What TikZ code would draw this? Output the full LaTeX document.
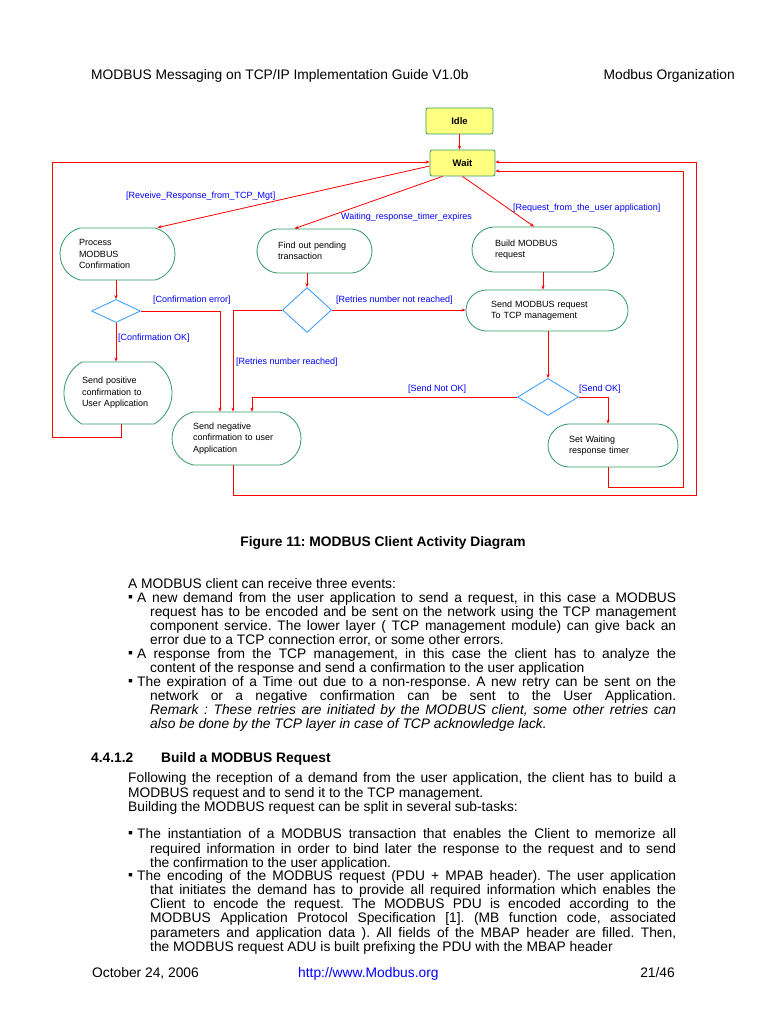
\documentclass[tikz,border=0pt]{standalone}
\usepackage{fontspec}
\setmainfont{Liberation Sans}
\usetikzlibrary{shapes.geometric,shapes.misc,arrows.meta}
\definecolor{flowred}{HTML}{FF0000}
\definecolor{lblblue}{HTML}{0000FF}
\definecolor{actgreen}{HTML}{339966}
\definecolor{decblue}{HTML}{3399FF}
\definecolor{stateyellow}{HTML}{FFFF80}
\frenchspacing
\newcommand\bul{\makebox[9pt][l]{\raisebox{0.5pt}{▪}}}
\newcommand\jl[2]{\hbox to #1pt{#2}}
\begin{document}
\begin{tikzpicture}[x=1pt,y=-1pt,
  act/.style={rounded rectangle, draw=actgreen, line width=0.8pt, fill=white, inner sep=0pt,
    font=\fontsize{9}{11.5}\selectfont, align=left},
  dec/.style={diamond, draw=decblue, line width=0.8pt, inner sep=0pt},
  state/.style={rectangle, rounded corners=2pt, draw=actgreen, fill=stateyellow, line width=0.8pt,
    inner sep=0pt, font=\fontsize{9.5}{11}\selectfont\bfseries},
  flow/.style={draw=flowred, line width=0.8pt, -{Stealth[length=4pt,width=3.2pt]}},
  lbl/.style={text=lblblue, font=\fontsize{9}{11}\selectfont, inner sep=0pt, anchor=west},
  body/.style={font=\fontsize{13.8}{14}\selectfont\frenchspacing, inner sep=0pt, anchor=base west},
  bodyr/.style={font=\fontsize{13.8}{14}\selectfont, inner sep=0pt, anchor=base east},
]
\useasboundingbox[fill=white] (0,0) rectangle (768,1024);

% header
\node[body] (hdl) at (91,80) {MODBUS Messaging on TCP/IP Implementation Guide V1.0b};
\node[bodyr] (hdr) at (735,80) {Modbus Organization};

% ---------- diagram ----------
\node[state, minimum width=67, minimum height=26] (Idle) at (459.5,121) {Idle};
\node[state, minimum width=65, minimum height=26] (Wait) at (462.5,163) {Wait};

\node[act, minimum width=115, minimum height=52, text width=77, rounded rectangle arc length=150]
  (Process) at (117.5,254) {Process\\MODBUS\\Confirmation};
\node[act, minimum width=115, minimum height=44, text width=73, rounded rectangle arc length=170]
  (Find) at (314.5,251) {Find out pending\\transaction};
\node[act, minimum width=142, minimum height=45, text width=96, rounded rectangle arc length=175]
  (Build) at (543,249.5) {Build MODBUS\\request};
\node[act, minimum width=162, minimum height=41, text width=112, rounded rectangle arc length=180]
  (SendReq) at (547,310.5) {Send MODBUS request\\To TCP management};
\node[act, minimum width=108, minimum height=62, text width=72, rounded rectangle arc length=120]
  (SendPos) at (118,393) {Send positive\\confirmation to\\User Application};
\node[act, minimum width=129, minimum height=53, text width=87, rounded rectangle arc length=155]
  (SendNeg) at (236.5,438.5) {Send negative\\confirmation to user\\Application};
\node[act, minimum width=130, minimum height=43, text width=88, rounded rectangle arc length=175]
  (SetWait) at (613,445.5) {Set Waiting\\response timer};

\node[dec, minimum width=49, minimum height=23] (D1) at (116,311) {};
\node[dec, minimum width=49, minimum height=45] (D2) at (307,310) {};
\node[dec, minimum width=61, minimum height=37] (D3) at (548,397) {};

% connectors
\draw[flow] (Idle.south) -- (Idle.south |- Wait.north);
\draw[flow] ([yshift=-3]Wait.west) -- ([xshift=40]Process.north);
\draw[flow] ([xshift=-20]Wait.south) -- ([xshift=-20]Find.north);
\draw[flow] (Wait.south) -- ([xshift=-9]Build.north);
\draw[flow] ([xshift=3]SendPos.south) |- (52,437) |- ([yshift=1]Wait.west);
\draw[flow] ([xshift=-3.5]SendNeg.south) |- (696,495) |- ([yshift=1]Wait.east);
\draw[flow] ([xshift=-5]SetWait.south) |- (683,487) |- ([yshift=-8]Wait.east);
\draw[flow] (Process.south -| D1.north) -- (D1.north);
\draw[flow] (D1.south) -- (D1.south |- SendPos.north);
\draw[flow] (D1.east) -| ([xshift=-16.5]SendNeg.north);
\draw[flow] (Find.south -| D2.north) -- (D2.north);
\draw[flow] (D2.west) -| ([xshift=-3.5]SendNeg.north);
\draw[flow] (D2.east) -- (D2.east -| SendReq.west);
\draw[flow] (Build.south) -- (Build.south |- SendReq.north);
\draw[flow] (SendReq.south -| D3.north) -- (D3.north);
\draw[flow] (D3.west) -| ([xshift=15.5]SendNeg.north);
\draw[flow] (D3.east) -| ([xshift=-5]SetWait.north);

% guard labels
\node[lbl] (l1) at (126,196) {[Reveive\_Response\_from\_TCP\_Mgt]};
\node[lbl] (l2) at (341,217) {Waiting\_response\_timer\_expires};
\node[lbl] (l3) at (513,208) {[Request\_from\_the\_user application]};
\node[lbl] (l4) at (153,300) {[Confirmation error]};
\node[lbl] (l5) at (118,338) {[Confirmation OK]};
\node[lbl] (l6) at (336,300) {[Retries number not reached]};
\node[lbl] (l7) at (236,362) {[Retries number reached]};
\node[lbl] (l8) at (408,389) {[Send Not OK]};
\node[lbl] (l9) at (579,389) {[Send OK]};

% caption
\node[font=\fontsize{13.8}{14}\selectfont\bfseries, inner sep=0pt, anchor=base] (cap) at (383,546)
  {Figure 11: MODBUS Client Activity Diagram};

% paragraph 1
\node[body] (p0) at (128,588) {A MODBUS client can receive three events:};
\node[body] (p1) at (128,602) {\jl{548}{\bul A new demand from the user application to send a request, in this case a MODBUS}};
\node[body] (p2) at (150,616) {\jl{526}{request has to be encoded and be sent on the network using the TCP management}};
\node[body] (p3) at (150,630) {\jl{526}{component service. The lower layer ( TCP management module) can give back an}};
\node[body] (p4) at (150,644) {error due to a TCP connection error, or some other errors.};
\node[body] (p5) at (128,658) {\jl{548}{\bul A response from the TCP management, in this case the client has to analyze the}};
\node[body] (p6) at (150,672) {content of the response and send a confirmation to the user application};
\node[body] (p7) at (128,686) {\jl{548}{\bul The expiration of a Time out due to a non-response. A new retry can be sent on the}};
\node[body] (p8) at (150,700) {\jl{526}{network or a negative confirmation can be sent to the User Application.}};
\node[body] (p9) at (150,714) {\itshape\jl{526}{Remark : These retries are initiated by the MODBUS client, some other retries can}};
\node[body] (p10) at (150,728) {\itshape also be done by the TCP layer in case of TCP acknowledge lack.};

% section heading
\node[body, font=\fontsize{13.8}{14}\selectfont\bfseries] (secn) at (91,762) {4.4.1.2};
\node[body, font=\fontsize{13.8}{14}\selectfont\bfseries] (sect) at (161,762) {Build a MODBUS Request};

% paragraph 2
\node[body] (s1) at (128,782) {\jl{548}{Following the reception of a demand from the user application, the client has to build a}};
\node[body] (s2) at (128,797) {MODBUS request and to send it to the TCP management.};
\node[body] (s3) at (128,811) {Building the MODBUS request can be split in several sub-tasks:};
\node[body] (s4) at (128,838) {\jl{548}{\bul The instantiation of a MODBUS transaction that enables the Client to memorize all}};
\node[body] (s5) at (150,853) {\jl{526}{required information in order to bind later the response to the request and to send}};
\node[body] (s6) at (150,867) {the confirmation to the user application.};
\node[body] (s7) at (128,880) {\jl{548}{\bul The encoding of the MODBUS request (PDU + MPAB header). The user application}};
\node[body] (s8) at (150,894) {\jl{526}{that initiates the demand has to provide all required information which enables the}};
\node[body] (s9) at (150,908) {\jl{526}{Client to encode the request. The MODBUS PDU is encoded according to the}};
\node[body] (s10) at (150,922) {\jl{526}{MODBUS Application Protocol Specification [1]. (MB function code, associated}};
\node[body] (s11) at (150,937) {\jl{526}{parameters and application data ). All fields of the MBAP header are filled. Then,}};
\node[body] (s12) at (150,951) {the MODBUS request ADU is built prefixing the PDU with the MBAP header};

% footer
\node[body] (f1) at (92,977) {October 24, 2006};
\node[body, text=lblblue] (f2) at (298,977) {http://www.Modbus.org};
\node[bodyr] (f3) at (675,977) {21/46};
\end{tikzpicture}
\end{document}
